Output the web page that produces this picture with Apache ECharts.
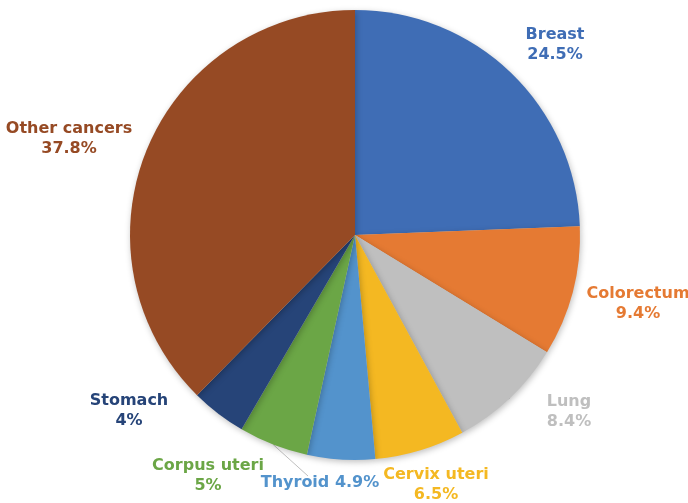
<!DOCTYPE html>
<html>
<head>
<meta charset="utf-8">
<script src="https://cdn.jsdelivr.net/npm/echarts@6/dist/echarts.min.js"></script>
<style>
html,body{margin:0;padding:0;background:#fff;}
#chart{width:688px;height:503px;}
</style>
</head>
<body>
<div id="chart"></div>
<script>
const categories = ['Breast', 'Colorectum', 'Lung', 'Cervix uteri', 'Thyroid', 'Corpus uteri', 'Stomach', 'Other cancers'];
const values = [24.5, 9.4, 8.4, 6.5, 4.9, 5, 4, 37.8];
const labelTexts = ['Breast\n24.5%', 'Colorectum\n9.4%', 'Lung\n8.4%', 'Cervix uteri\n6.5%', 'Thyroid 4.9%', 'Corpus uteri\n5%', 'Stomach\n4%', 'Other cancers\n37.8%'];
const colors = ['#3F6DB5', '#E57A33', '#BFBFBF', '#F4B822', '#5393CC', '#6BA646', '#264478', '#964A24'];
const showLine = [false, false, true, false, false, true, true, false];
// label block centres (layout only)
const labelPos = [[555, 45], [638, 304], [569, 412], [436, 485], [320, 483], [208, 476], [129, 411], [69, 139]];

const chart = echarts.init(document.getElementById('chart'));
const data = categories.map((c, i) => ({
  name: c,
  value: values[i],
  itemStyle: { color: colors[i] },
  label: { formatter: labelTexts[i], color: colors[i] },
  labelLine: { show: showLine[i] }
}));
chart.setOption({
  animation: false,
  series: [{
    type: 'pie',
    center: [355, 235],
    radius: 225,
    startAngle: 90,
    clockwise: true,
    data: data,
    itemStyle: {
      borderColor: '#fff',
      borderWidth: 0,
      shadowBlur: 6,
      shadowColor: 'rgba(0,0,0,0.25)',
      shadowOffsetX: 1,
      shadowOffsetY: 2
    },
    label: {
      show: true,
      position: 'outside',
      fontFamily: 'DejaVu Sans',
      fontWeight: 'bold',
      fontSize: 16,
      lineHeight: 20,
      align: 'center',
      overflow: 'none',
      width: 200
    },
    labelLine: {
      length: 10,
      length2: 10,
      lineStyle: { color: '#BFBFBF', width: 1 }
    },
    labelLayout: function (p) {
      const pos = labelPos[p.dataIndex];
      return { x: pos[0], y: pos[1], align: 'center', verticalAlign: 'middle' };
    }
  }]
});
</script>
</body>
</html>
